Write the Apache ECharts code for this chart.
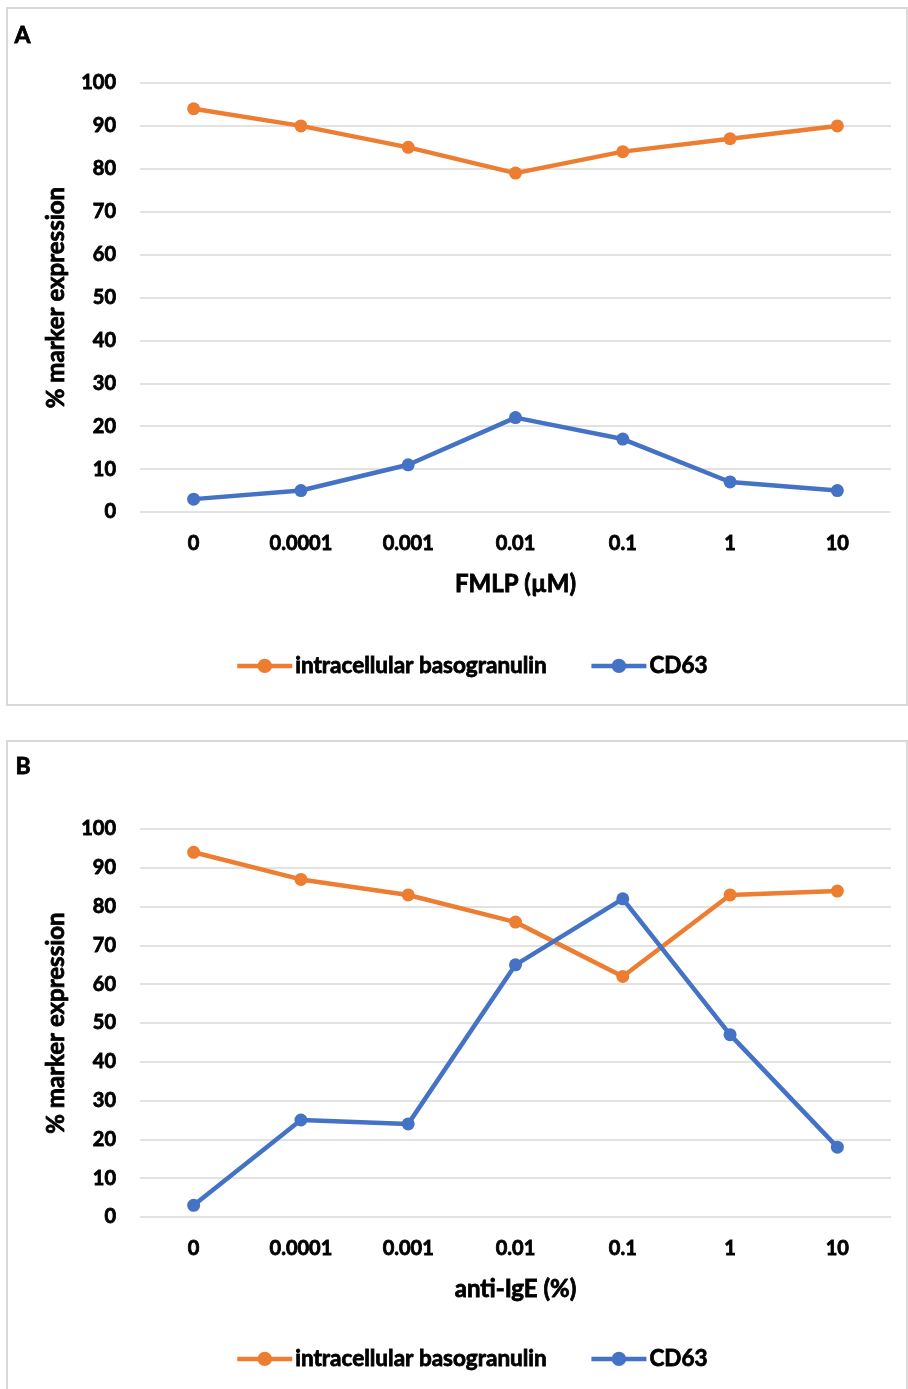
<!DOCTYPE html>
<html>
<head>
<meta charset="utf-8">
<script src="https://cdn.jsdelivr.net/npm/echarts@6/dist/echarts.min.js"></script>
<style>
  html, body { margin: 0; padding: 0; background: #fff; }
  #chart { width: 908px; height: 1389px; }
</style>
</head>
<body>
<div id="chart"></div>
<script>
// Concentration steps shared by both panels
const concentrations = ['0', '0.0001', '0.001', '0.01', '0.1', '1', '10'];

// Panel A: FMLP stimulation
const fmlpBasogranulin = [94, 90, 85, 79, 84, 87, 90];
const fmlpCD63 = [3, 5, 11, 22, 17, 7, 5];

// Panel B: anti-IgE stimulation
const igeBasogranulin = [94, 87, 83, 76, 62, 83, 84];
const igeCD63 = [3, 25, 24, 65, 82, 47, 18];

const seriesNames = ['intracellular basogranulin', 'CD63'];
const panelTitles = ['A', 'B'];
const xAxisTitles = ['FMLP (µM)', 'anti-IgE (%)'];
const yAxisTitle = '% marker expression';

const ORANGE = '#ED7D31';
const BLUE = '#4472C4';
const FONT = 'Lato, "Open Sans", sans-serif';
const GRID_COLOR = '#D9D9D9';

// Heavy black text: bold face plus a hairline outline in the same colour
function heavy(size) {
  return {
    color: '#000', fontFamily: FONT, fontWeight: 'bold', fontSize: size,
    textBorderColor: '#000', textBorderWidth: 0.8
  };
}

const chart = echarts.init(document.getElementById('chart'), null, { renderer: 'canvas' });

const grids = [
  { left: 140, top: 83, width: 751, height: 429 },
  { left: 140, top: 829, width: 751, height: 388 }
];

function xAxisFor(i) {
  return {
    type: 'category',
    gridIndex: i,
    data: concentrations,
    boundaryGap: true,
    axisLine: { show: false },
    axisTick: { show: false },
    axisLabel: Object.assign(heavy(20), { margin: 22 }),
    name: xAxisTitles[i],
    nameLocation: 'middle',
    nameGap: 60,
    nameTextStyle: heavy(24)
  };
}

function yAxisFor(i) {
  return {
    type: 'value',
    gridIndex: i,
    min: 0,
    max: 100,
    interval: 10,
    axisLine: { show: false },
    axisTick: { show: false },
    splitLine: { lineStyle: { color: GRID_COLOR, width: 1.5 } },
    axisLabel: Object.assign(heavy(20), { margin: 24 }),
    name: yAxisTitle,
    nameLocation: 'middle',
    nameGap: 72,
    nameTextStyle: heavy(24)
  };
}

function lineSeries(name, data, color, i) {
  return {
    name: name,
    type: 'line',
    xAxisIndex: i,
    yAxisIndex: i,
    data: data,
    symbol: 'circle',
    symbolSize: 13,
    itemStyle: { color: color },
    lineStyle: { color: color, width: 4.5 },
    emphasis: { disabled: true },
    animation: false
  };
}

function legendFor(top) {
  return {
    data: seriesNames,
    left: 235,
    top: top,
    padding: 0,
    itemWidth: 55,
    itemHeight: 18,
    itemGap: 42,
    lineStyle: { width: 4.5 },
    textStyle: Object.assign(heavy(22.5), { padding: [0, 0, 0, -2] })
  };
}

chart.setOption({
  backgroundColor: '#fff',
  animation: false,
  grid: grids,
  xAxis: [xAxisFor(0), xAxisFor(1)],
  yAxis: [yAxisFor(0), yAxisFor(1)],
  legend: [legendFor(654), legendFor(1347)],
  graphic: [
    { type: 'rect', shape: { x: 7, y: 8, width: 900, height: 697 },
      style: { fill: 'none', stroke: GRID_COLOR, lineWidth: 2 }, silent: true },
    { type: 'rect', shape: { x: 7, y: 741, width: 900, height: 700 },
      style: { fill: 'none', stroke: GRID_COLOR, lineWidth: 2 }, silent: true },
    { type: 'text', left: 14, top: 24,
      style: { text: panelTitles[0], fill: '#000', font: 'bold 23px ' + FONT, stroke: '#000', lineWidth: 0.8 } },
    { type: 'text', left: 15, top: 755,
      style: { text: panelTitles[1], fill: '#000', font: 'bold 23px ' + FONT, stroke: '#000', lineWidth: 0.8 } }
  ],
  series: [
    lineSeries(seriesNames[0], fmlpBasogranulin, ORANGE, 0),
    lineSeries(seriesNames[1], fmlpCD63, BLUE, 0),
    lineSeries(seriesNames[0], igeBasogranulin, ORANGE, 1),
    lineSeries(seriesNames[1], igeCD63, BLUE, 1)
  ]
});
</script>
</body>
</html>
